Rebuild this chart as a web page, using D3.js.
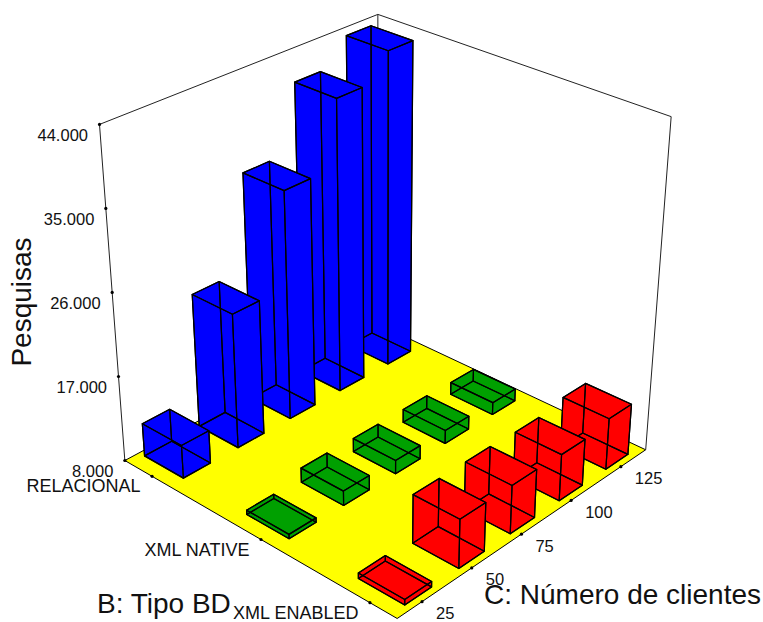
<!DOCTYPE html>
<html>
<head>
<meta charset="utf-8">
<script src="https://cdn.jsdelivr.net/npm/d3@7"></script>
<style>
  html, body { margin: 0; padding: 0; background: #fff; }
  text { font-family: "Liberation Sans", Arial, sans-serif; fill: #111; }
</style>
</head>
<body>
<div id="chart"></div>
<script>
var clients = [25, 50, 75, 100, 125];
var types = ["RELACIONAL", "XML NATIVE", "XML ENABLED"];
var zTicks = [8000, 17000, 26000, 35000, 44000];
var zLabels = ["8.000", "17.000", "26.000", "35.000", "44.000"];

var relacional = [11460, 22400, 33000, 40600, 43500];
var xmlNative = [8450, 9500, 9400, 9400, 9300];
var xmlEnabled = [8550, 13000, 13000, 12850, 13400];

var seriesColors = ["#0000ff", "#00a000", "#ff0000"];

var width = 763, height = 622;

// unit cube -> screen, fitted from where the cube corners sit on the page
var cubeCorners = [
  [[0, 0, 0], [125, 460]],
  [[0, 1, 0], [397, 619]],
  [[1, 1, 0], [646, 449]],
  [[1, 0, 0], [378, 325]],
  [[0, 0, 1], [99.5, 124.5]],
  [[1, 0, 1], [378, 14]],
  [[1, 1, 1], [671, 117]]
];

function fitCamera(pairs) {
  var rows = [], rhs = [];
  pairs.forEach(function(p) {
    var a = p[0], s = p[1];
    rows.push([a[0], a[1], a[2], 1, 0, 0, 0, 0, -s[0] * a[0], -s[0] * a[1], -s[0] * a[2]]);
    rhs.push(s[0]);
    rows.push([0, 0, 0, 0, a[0], a[1], a[2], 1, -s[1] * a[0], -s[1] * a[1], -s[1] * a[2]]);
    rhs.push(s[1]);
  });
  var n = 11, m = [];
  for (var i = 0; i < n; i++) {
    m.push([]);
    for (var j = 0; j <= n; j++) {
      var sum = 0;
      for (var r = 0; r < rows.length; r++) {
        sum += rows[r][i] * (j < n ? rows[r][j] : rhs[r]);
      }
      m[i].push(sum);
    }
  }
  for (var c = 0; c < n; c++) {
    var best = c;
    for (var k = c + 1; k < n; k++) if (Math.abs(m[k][c]) > Math.abs(m[best][c])) best = k;
    var tmp = m[c]; m[c] = m[best]; m[best] = tmp;
    for (var k2 = 0; k2 < n; k2++) {
      if (k2 === c) continue;
      var f = m[k2][c] / m[c][c];
      for (var j2 = c; j2 <= n; j2++) m[k2][j2] -= f * m[c][j2];
    }
  }
  return m.map(function(row, idx) { return row[n] / row[idx]; });
}

var cam = fitCamera(cubeCorners);

function cameraPoint(px, py, pz) {
  var w = cam[8] * px + cam[9] * py + cam[10] * pz + 1;
  return [
    (cam[0] * px + cam[1] * py + cam[2] * pz + cam[3]) / w,
    (cam[4] * px + cam[5] * py + cam[6] * pz + cam[7]) / w
  ];
}

function lerp(a, b, t) {
  return [a[0] + (b[0] - a[0]) * t, a[1] + (b[1] - a[1]) * t];
}

// heights stay evenly spaced on screen, like the ticks on the left edge
function project(p) {
  return lerp(cameraPoint(p[0], p[1], 0), cameraPoint(p[0], p[1], 1), p[2]);
}

// Set the ranges
var x = d3.scaleLinear().domain([25, 125]).range([0.1, 0.9]);
var y = d3.scalePoint().domain(types).range([0.1, 0.9]);
var z = d3.scaleLinear().domain([8000, 44000]).range([0, 1]);

var halfX = 0.049, halfY = 0.078;

var svg = d3.select("#chart")
  .append("svg")
  .attr("width", width)
  .attr("height", height);

var line = d3.line();
function poly(points) { return line(points.map(project)) + "Z"; }

// Floor
svg.append("path")
  .attr("d", poly([[0, 0, 0], [0, 1, 0], [1, 1, 0], [1, 0, 0]]))
  .attr("fill", "#ffff00")
  .attr("stroke", "#000")
  .attr("stroke-width", 1);

// Back walls
[
  [[0, 0, 0], [0, 0, 1]],
  [[0, 0, 1], [1, 0, 1]],
  [[1, 0, 1], [1, 1, 1]],
  [[1, 1, 1], [1, 1, 0]],
  [[1, 0, 0], [1, 0, 1]]
].forEach(function(e) {
  svg.append("path")
    .attr("d", line(e.map(project)))
    .attr("fill", "none")
    .attr("stroke", "#222")
    .attr("stroke-width", 1);
});

// Bars, painted from the back corner to the front corner
var bars = [];
[relacional, xmlNative, xmlEnabled].forEach(function(values, t) {
  values.forEach(function(v, c) {
    bars.push({ client: clients[c], type: types[t], value: v, color: seriesColors[t], t: t, c: c });
  });
});
bars.sort(function(a, b) { return d3.descending(a.c, b.c) || d3.ascending(a.t, b.t); });

function barCorners(d) {
  var x0 = x(d.client) - halfX, x1 = x(d.client) + halfX;
  var y0 = y(d.type) - halfY, y1 = y(d.type) + halfY;
  var h = z(d.value);
  return {
    bottom: [[x0, y0, 0], [x0, y1, 0], [x1, y1, 0], [x1, y0, 0]],
    top: [[x0, y0, h], [x0, y1, h], [x1, y1, h], [x1, y0, h]]
  };
}

var barGroups = svg.selectAll("g.bar")
  .data(bars)
  .enter()
  .append("g")
  .attr("class", "bar");

barGroups.each(function(d) {
  var g = d3.select(this), k = barCorners(d);
  var faces = [k.bottom, k.top];
  for (var i = 0; i < 4; i++) {
    var n = (i + 1) % 4;
    faces.push([k.bottom[i], k.bottom[n], k.top[n], k.top[i]]);
  }
  // fill first, then every edge on top (hidden ones show through)
  g.selectAll("path.face")
    .data(faces)
    .enter()
    .append("path")
    .attr("class", "face")
    .attr("d", poly)
    .attr("fill", d.color)
    .attr("stroke", "none");
  g.selectAll("path.edge")
    .data(faces)
    .enter()
    .append("path")
    .attr("class", "edge")
    .attr("d", poly)
    .attr("fill", "none")
    .attr("stroke", "#000")
    .attr("stroke-width", 1.2)
    .attr("stroke-linejoin", "round");
});

// Tick dots and labels; the ticks are evenly spaced along the edges on screen
function dot(s) {
  svg.append("circle").attr("cx", s[0]).attr("cy", s[1]).attr("r", 1.6).attr("fill", "#000");
  return s;
}

zTicks.forEach(function(t, i) {
  var s = dot(project([0, 0, z(t)]));
  svg.append("text")
    .attr("x", s[0] - 11.5)
    .attr("y", s[1] + 16.5)
    .attr("text-anchor", "end")
    .attr("font-size", 16.5)
    .text(zLabels[i]);
});

types.forEach(function(t) {
  var s = dot(lerp(project([0, 0, 0]), project([0, 1, 0]), y(t)));
  svg.append("text")
    .attr("x", s[0] - 11.5)
    .attr("y", s[1] + 16)
    .attr("text-anchor", "end")
    .attr("font-size", 18)
    .text(t);
});

clients.forEach(function(c) {
  var s = dot(lerp(project([0, 1, 0]), project([1, 1, 0]), x(c)));
  svg.append("text")
    .attr("x", s[0] + 14)
    .attr("y", s[1] + 17.5)
    .attr("font-size", 16.5)
    .text(c);
});

// Axis titles
svg.append("text")
  .attr("transform", "translate(31,302) rotate(-90)")
  .attr("text-anchor", "middle")
  .attr("font-size", 28)
  .text("Pesquisas");

svg.append("text")
  .attr("x", 97)
  .attr("y", 613)
  .attr("font-size", 28)
  .text("B: Tipo BD");

svg.append("text")
  .attr("x", 484)
  .attr("y", 604)
  .attr("font-size", 28)
  .text("C: Número de clientes");
</script>
</body>
</html>
